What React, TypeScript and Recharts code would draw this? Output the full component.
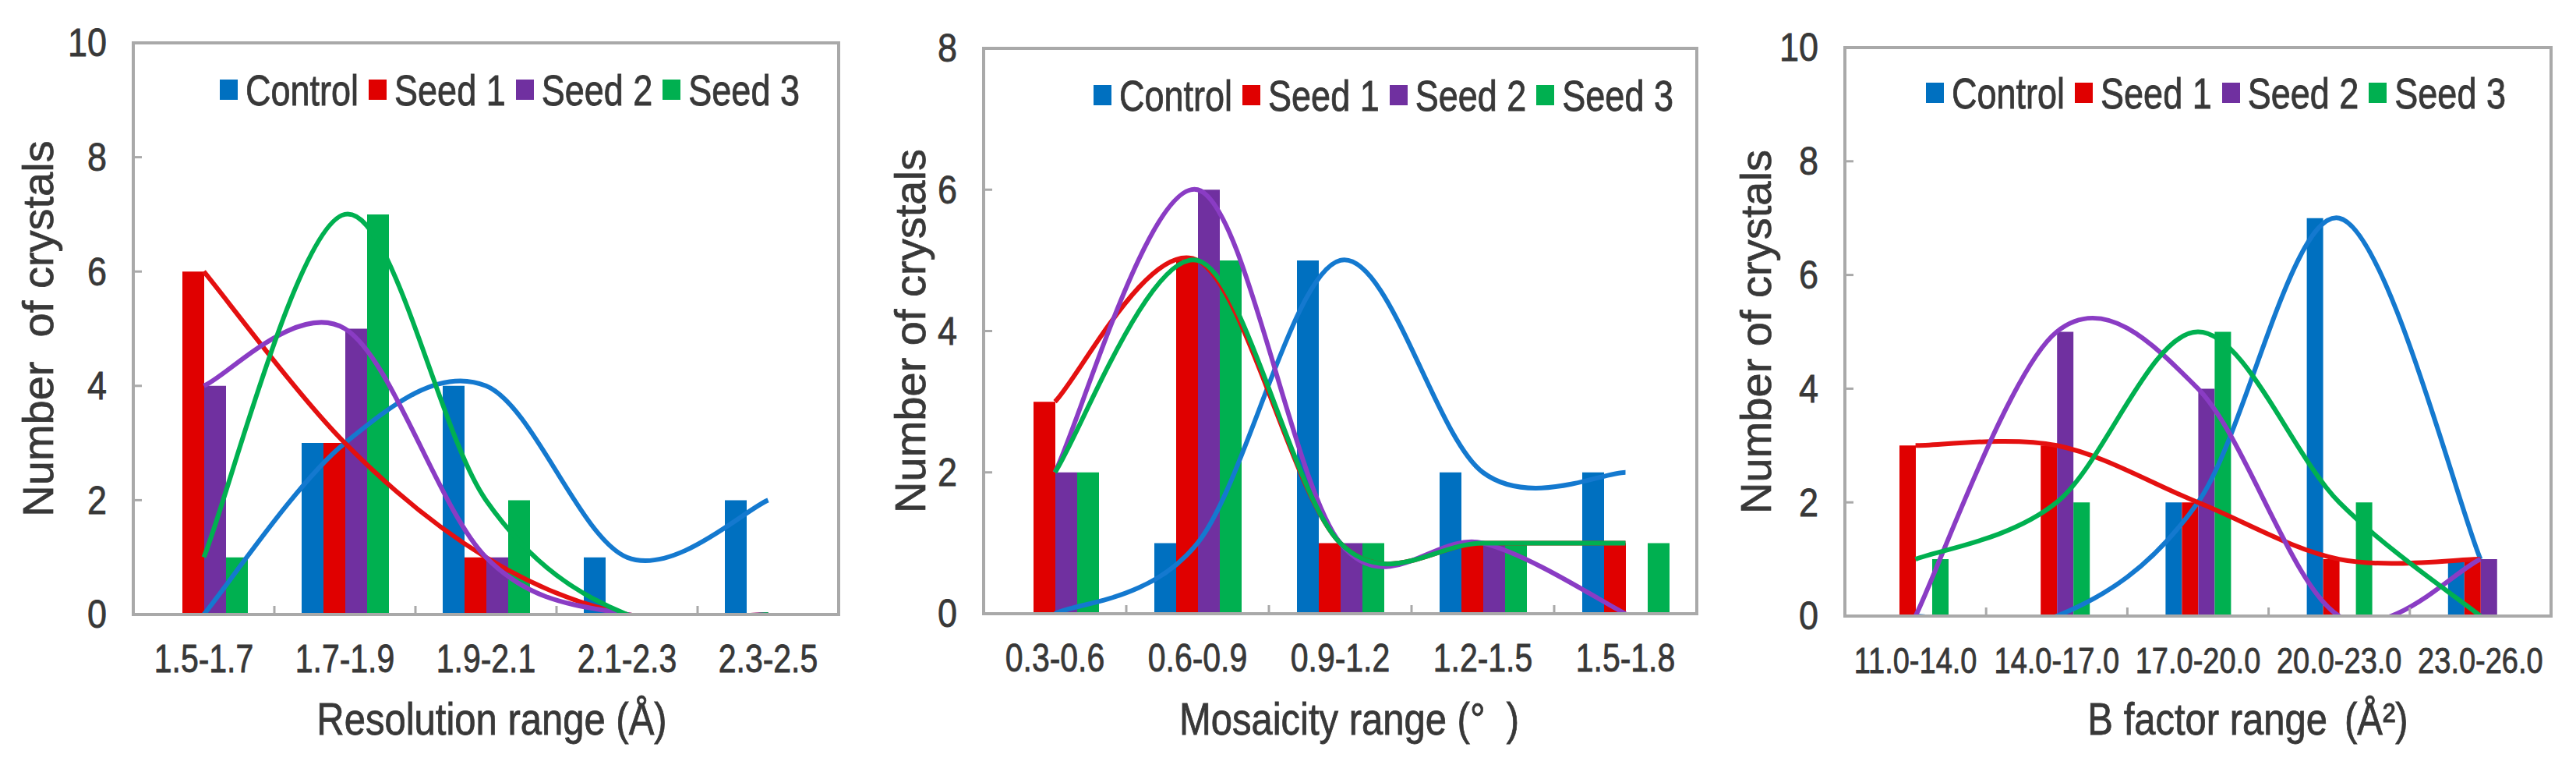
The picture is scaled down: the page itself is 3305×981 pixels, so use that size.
import React from 'react';
import { ComposedChart, Bar, Line, XAxis, YAxis, Legend, Label, ReferenceArea } from 'recharts';

// Resolution panel
const RESOLUTION_RANGES = ['1.5-1.7', '1.7-1.9', '1.9-2.1', '2.1-2.3', '2.3-2.5'];
const RESOLUTION_CONTROL = [0, 3, 4, 1, 2];
const RESOLUTION_SEED1 = [6, 3, 1, 0, 0];
const RESOLUTION_SEED2 = [4, 5, 1, 0, 0];
const RESOLUTION_SEED3 = [1, 7, 2, 0, 0];

// Mosaicity panel
const MOSAICITY_RANGES = ['0.3-0.6', '0.6-0.9', '0.9-1.2', '1.2-1.5', '1.5-1.8'];
const MOSAICITY_CONTROL = [0, 1, 5, 2, 2];
const MOSAICITY_SEED1 = [3, 5, 1, 1, 1];
const MOSAICITY_SEED2 = [2, 6, 1, 1, 0];
const MOSAICITY_SEED3 = [2, 5, 1, 1, 1];

// B factor panel
const BFACTOR_RANGES = ['11.0-14.0', '14.0-17.0', '17.0-20.0', '20.0-23.0', '23.0-26.0'];
const BFACTOR_CONTROL = [0, 0, 2, 7, 1];
const BFACTOR_SEED1 = [3, 3, 2, 1, 1];
const BFACTOR_SEED2 = [0, 5, 4, 0, 1];
const BFACTOR_SEED3 = [1, 2, 5, 2, 0];

const TICKS_10 = [0, 2, 4, 6, 8, 10];
const TICKS_8 = [0, 2, 4, 6, 8];

const SERIES = [
  { key: 'control', name: 'Control', bar: '#0070C0', line: '#1479CF' },
  { key: 'seed1', name: 'Seed 1', bar: '#E00000', line: '#E41010' },
  { key: 'seed2', name: 'Seed 2', bar: '#7030A0', line: '#8A3CC4' },
  { key: 'seed3', name: 'Seed 3', bar: '#00B050', line: '#00B050' },
];

const AXIS = '#a9a9a9';
const TEXT = '#383838';
const FONT = '"Liberation Sans", Arial, sans-serif';
const H = 981;

function buildRows(ranges: string[], control: number[], seed1: number[], seed2: number[], seed3: number[]) {
  return ranges.map((range, i) => ({
    range,
    control: control[i],
    seed1: seed1[i],
    seed2: seed2[i],
    seed3: seed3[i],
  }));
}

// Excel-like smoothing (Catmull-Rom through every point)
const excelSmooth = (context: any) => {
  let pts: number[][] = [];
  return {
    areaStart() {},
    areaEnd() {},
    lineStart() {
      pts = [];
    },
    point(x: number, y: number) {
      pts.push([+x, +y]);
    },
    lineEnd() {
      const n = pts.length;
      if (!n) return;
      context.moveTo(pts[0][0], pts[0][1]);
      for (let i = 0; i < n - 1; i++) {
        const p0 = pts[Math.max(i - 1, 0)];
        const p1 = pts[i];
        const p2 = pts[i + 1];
        const p3 = pts[Math.min(i + 2, n - 1)];
        context.bezierCurveTo(
          p1[0] + (p2[0] - p0[0]) / 6,
          p1[1] + (p2[1] - p0[1]) / 6,
          p2[0] - (p3[0] - p1[0]) / 6,
          p2[1] - (p3[1] - p1[1]) / 6,
          p2[0],
          p2[1],
        );
      }
    },
  };
};

interface PanelProps {
  rows: any[];
  yTicks: number[];
  yTitle: string;
  xTitle: React.ReactNode;
  offsetX: number;
  width: number;
  plot: { left: number; right: number; top: number; bottom: number };
  barSize: number;
  tickFont: number;
  legendX: number;
  legendY: number;
  yTitleX: number;
  xTitleX: number;
}

const textInk = { stroke: TEXT, strokeWidth: 0.7 };

function Panel(p: PanelProps) {
  const yMax = p.yTicks[p.yTicks.length - 1];
  const halfBand = (p.plot.right - p.plot.left) / p.rows.length / 2;
  const axisLine = { stroke: AXIS, strokeWidth: 4 };

  const renderXTick = (props: any) => {
    const { x, payload, index } = props;
    return (
      <g>
        {index > 0 && (
          <line x1={x - halfBand} x2={x - halfBand} y1={p.plot.bottom} y2={p.plot.bottom - 11} stroke={AXIS} strokeWidth={3} />
        )}
        <g transform={`translate(${x},${p.plot.bottom + 57}) scale(1,1.2)`}>
          <text textAnchor="middle" dominantBaseline="central" fontSize={p.tickFont} fill={TEXT} {...textInk}>
            {payload.value}
          </text>
        </g>
      </g>
    );
  };

  const renderYTick = (props: any) => {
    const { y, payload } = props;
    return (
      <g>
        {payload.value > 0 && payload.value < yMax && (
          <line x1={p.plot.left} x2={p.plot.left + 11} y1={y} y2={y} stroke={AXIS} strokeWidth={3} />
        )}
        <g transform={`translate(${p.plot.left - 34},${y}) scale(1,1.12)`}>
          <text textAnchor="end" dominantBaseline="central" fontSize={45} fill={TEXT} {...textInk}>
            {payload.value}
          </text>
        </g>
      </g>
    );
  };

  const renderLegend = (props: any) => (
    <div style={{ display: 'flex', alignItems: 'center', height: 40, fontFamily: FONT, whiteSpace: 'nowrap' }}>
      {(props.payload || [])
        .filter((e: any) => e.type !== 'none')
        .map((e: any) => (
          <div key={e.value} style={{ display: 'flex', alignItems: 'center', marginRight: 13 }}>
            <span style={{ width: 23, height: 26, background: e.color, marginRight: 10 }} />
            <span
              style={{
                fontSize: 45,
                lineHeight: 1,
                color: TEXT,
                transform: 'scaleY(1.25)',
                WebkitTextStroke: `0.7px ${TEXT}`,
              }}
            >
              {e.value}
            </span>
          </div>
        ))}
    </div>
  );

  const midY = (p.plot.top + p.plot.bottom) / 2;

  return (
    <div style={{ position: 'absolute', left: p.offsetX, top: 0 }}>
      <ComposedChart
        width={p.width}
        height={H}
        data={p.rows}
        barGap={0}
        margin={{ top: p.plot.top, right: p.width - p.plot.right, bottom: 0, left: 0 }}
      >
        <XAxis
          dataKey="range"
          interval={0}
          height={H - p.plot.bottom}
          axisLine={axisLine}
          tickLine={false}
          tick={renderXTick}
          label={
            <Label
              content={() => (
                <g transform={`translate(${p.xTitleX},922) scale(1,1.18)`}>
                  <text textAnchor="middle" dominantBaseline="central" fontSize={49} fill={TEXT} {...textInk}>
                    {p.xTitle}
                  </text>
                </g>
              )}
            />
          }
        />
        <YAxis
          type="number"
          domain={[0, yMax]}
          ticks={p.yTicks}
          interval={0}
          allowDataOverflow
          width={p.plot.left}
          axisLine={axisLine}
          tickLine={false}
          tick={renderYTick}
          label={
            <Label
              content={() => (
                <text
                  transform={`translate(${p.yTitleX},${midY}) rotate(-90)`}
                  textAnchor="middle"
                  dominantBaseline="central"
                  fontSize={56}
                  fill={TEXT}
                  {...textInk}
                >
                  {p.yTitle}
                </text>
              )}
            />
          }
        />
        {/* plot-area frame */}
        <ReferenceArea y1={0} y2={yMax} fill="none" fillOpacity={0} stroke={AXIS} strokeWidth={4} strokeOpacity={1} />
        <Legend
          layout="horizontal"
          verticalAlign="middle"
          align="center"
          content={renderLegend}
          wrapperStyle={{ left: p.legendX, top: p.legendY - 20, width: 'auto', height: 40 }}
        />
        {SERIES.map((s) => (
          <Bar
            key={`bar-${s.key}`}
            dataKey={s.key}
            name={s.name}
            fill={s.bar}
            barSize={p.barSize}
            isAnimationActive={false}
          />
        ))}
        {SERIES.map((s) => (
          <Line
            key={`line-${s.key}`}
            dataKey={s.key}
            name={s.name}
            type={excelSmooth as any}
            stroke={s.line}
            strokeWidth={6}
            dot={false}
            activeDot={false}
            legendType="none"
            isAnimationActive={false}
          />
        ))}
      </ComposedChart>
    </div>
  );
}

export default function App() {
  const resolutionRows = buildRows(RESOLUTION_RANGES, RESOLUTION_CONTROL, RESOLUTION_SEED1, RESOLUTION_SEED2, RESOLUTION_SEED3);
  const mosaicityRows = buildRows(MOSAICITY_RANGES, MOSAICITY_CONTROL, MOSAICITY_SEED1, MOSAICITY_SEED2, MOSAICITY_SEED3);
  const bfactorRows = buildRows(BFACTOR_RANGES, BFACTOR_CONTROL, BFACTOR_SEED1, BFACTOR_SEED2, BFACTOR_SEED3);

  return (
    <div
      style={{
        position: 'absolute',
        left: 0,
        top: 0,
        width: 3305,
        height: H,
        background: '#fff',
        overflow: 'hidden',
        fontFamily: FONT,
      }}
    >
      <Panel
        rows={resolutionRows}
        yTicks={TICKS_10}
        yTitle={'Number\u00A0\u00A0of crystals'}
        xTitle="Resolution range (Å)"
        offsetX={0}
        width={1100}
        plot={{ left: 171, right: 1076, top: 55, bottom: 788 }}
        barSize={28}
        tickFont={41}
        legendX={282}
        legendY={115}
        yTitleX={48}
        xTitleX={631}
      />
      <Panel
        rows={mosaicityRows}
        yTicks={TICKS_8}
        yTitle="Number of crystals"
        xTitle={'Mosaicity range (°\u00A0\u00A0)'}
        offsetX={1100}
        width={1100}
        plot={{ left: 162, right: 1077, top: 62, bottom: 787 }}
        barSize={28}
        tickFont={41}
        legendX={303}
        legendY={122}
        yTitleX={67}
        xTitleX={631}
      />
      <Panel
        rows={bfactorRows}
        yTicks={TICKS_10}
        yTitle="Number of crystals"
        xTitle={
          <>
            <tspan>B factor range</tspan>
            <tspan dx={22}>(Å²)</tspan>
          </>
        }
        offsetX={2200}
        width={1105}
        plot={{ left: 167, right: 1073, top: 61, bottom: 790 }}
        barSize={21}
        tickFont={38}
        legendX={271}
        legendY={119}
        yTitleX={52}
        xTitleX={684}
      />
    </div>
  );
}
